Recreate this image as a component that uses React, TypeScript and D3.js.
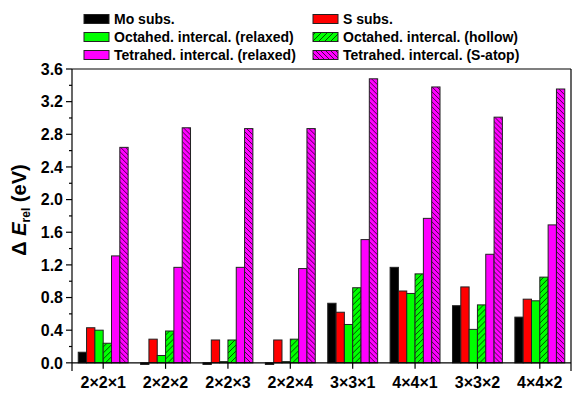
import React from 'react';
import * as d3 from 'd3';

const categories = ['2×2×1', '2×2×2', '2×2×3', '2×2×4', '3×3×1', '4×4×1', '3×3×2', '4×4×2'];

const seriesNames = [
  'Mo subs.',
  'S subs.',
  'Octahed. intercal. (relaxed)',
  'Octahed. intercal. (hollow)',
  'Tetrahed. intercal. (relaxed)',
  'Tetrahed. intercal. (S-atop)',
];

const moSubs = [0.13, -0.02, -0.02, -0.02, 0.73, 1.17, 0.70, 0.56];
const sSubs = [0.43, 0.29, 0.28, 0.28, 0.62, 0.88, 0.93, 0.78];
const octaRelaxed = [0.40, 0.09, 0.015, 0.015, 0.47, 0.85, 0.41, 0.76];
const octaHollow = [0.24, 0.39, 0.28, 0.29, 0.92, 1.09, 0.71, 1.05];
const tetraRelaxed = [1.31, 1.17, 1.17, 1.155, 1.51, 1.77, 1.33, 1.69];
const tetraAtop = [2.64, 2.88, 2.87, 2.87, 3.48, 3.38, 3.01, 3.355];

const seriesValues = [moSubs, sSubs, octaRelaxed, octaHollow, tetraRelaxed, tetraAtop];
const fills = ['#000000', '#ff0000', '#00ff00', 'url(#hatchGreen)', '#ff00ff', 'url(#hatchMagenta)'];

const yTicks = [0, 0.4, 0.8, 1.2, 1.6, 2.0, 2.4, 2.8, 3.2, 3.6];
const yMinorTicks = [0.2, 0.6, 1.0, 1.4, 1.8, 2.2, 2.6, 3.0, 3.4];

const width = 581;
const height = 396;
const margin = { left: 72, right: 10, top: 69, bottom: 25 };
const font = '"Liberation Sans", Arial, sans-serif';

export default function App() {
  const x = d3.scaleBand<string>()
    .domain(categories)
    .range([margin.left, width - margin.right])
    .paddingInner(0.2)
    .paddingOuter(0.1);

  const xSub = d3.scaleBand<number>()
    .domain(d3.range(seriesNames.length))
    .range([0, x.bandwidth()]);

  const y = d3.scaleLinear()
    .domain([-0.1, 3.6])
    .range([height - margin.bottom, margin.top]);

  // x axis sits at value 0, frame continues down to the domain minimum
  const y0 = y(0);
  const yBottom = y(-0.1);
  const left = margin.left;
  const right = width - margin.right;

  const legendCols = [84, 313];
  const legendRows = [19, 37, 55];

  return (
    <svg width={width} height={height}
      style={{ position: 'absolute', left: 0, top: 0, background: '#fff' }}
      fontFamily={font}>
      <defs>
        <pattern id="hatchGreen" patternUnits="userSpaceOnUse" width={6} height={6}>
          <rect width={6} height={6} fill="#00ff00" />
          <path d="M0,6 L6,0 M-1.5,1.5 L1.5,-1.5 M4.5,7.5 L7.5,4.5" stroke="#000" strokeWidth={0.7} />
        </pattern>
        <pattern id="hatchMagenta" patternUnits="userSpaceOnUse" width={5} height={5}>
          <rect width={5} height={5} fill="#ff00ff" />
          <path d="M0,0 L5,5 M-1.25,3.75 L1.25,6.25 M3.75,-1.25 L6.25,1.25" stroke="#000" strokeWidth={0.7} />
        </pattern>
      </defs>

      {/* bars */}
      {categories.map((cat, ci) => (
        <g key={cat} transform={`translate(${x(cat)},0)`}>
          {seriesValues.map((vals, si) => {
            const v = vals[ci];
            const top = y(Math.max(0, v));
            const h = Math.abs(y(v) - y0);
            return (
              <rect key={si} x={xSub(si)} y={top} width={xSub.bandwidth()} height={Math.max(h, 0.5)}
                fill={fills[si]} stroke="#222" strokeWidth={1} />
            );
          })}
        </g>
      ))}

      {/* frame */}
      <line x1={left} x2={right} y1={margin.top} y2={margin.top} stroke="#000" strokeWidth={1.2} />
      <line x1={left} x2={left} y1={margin.top} y2={yBottom} stroke="#000" strokeWidth={1.2} />
      <line x1={right} x2={right} y1={margin.top} y2={yBottom} stroke="#000" strokeWidth={1.2} />
      <line x1={left} x2={right} y1={y0} y2={y0} stroke="#000" strokeWidth={1.2} />

      {/* y ticks */}
      {yTicks.map(t => (
        <g key={t}>
          <line x1={left - 6} x2={left} y1={y(t)} y2={y(t)} stroke="#000" strokeWidth={1.2} />
          <text x={left - 9} y={y(t)} dy="0.36em" textAnchor="end" fontSize={16} fontWeight="bold">
            {d3.format('.1f')(t)}
          </text>
        </g>
      ))}
      {yMinorTicks.map(t => (
        <line key={t} x1={left - 3} x2={left} y1={y(t)} y2={y(t)} stroke="#000" strokeWidth={1.2} />
      ))}

      {/* x ticks */}
      {categories.map(cat => {
        const cx = (x(cat) ?? 0) + x.bandwidth() / 2;
        return (
          <g key={cat}>
            <line x1={cx} x2={cx} y1={y0} y2={y0 + 6} stroke="#000" strokeWidth={1.2} />
            <text x={cx} y={388} textAnchor="middle" fontSize={16} fontWeight="bold">{cat}</text>
          </g>
        );
      })}

      {/* y title */}
      <text transform="translate(26,210) rotate(-90)" textAnchor="middle" fontSize={20} fontWeight="bold">
        <tspan>Δ </tspan>
        <tspan fontStyle="italic">E</tspan>
        <tspan fontSize={12} dy={4}>rel</tspan>
        <tspan dy={-4}> (eV)</tspan>
      </text>

      {/* legend */}
      {seriesNames.map((name, i) => {
        const lx = legendCols[i % 2];
        const ly = legendRows[Math.floor(i / 2)];
        return (
          <g key={name}>
            <rect x={lx} y={ly - 4.5} width={25} height={9} fill={fills[i]} stroke="#222" strokeWidth={1} />
            <text x={lx + 30} y={ly} dy="0.36em" fontSize={14} fontWeight="bold">{name}</text>
          </g>
        );
      })}
    </svg>
  );
}
